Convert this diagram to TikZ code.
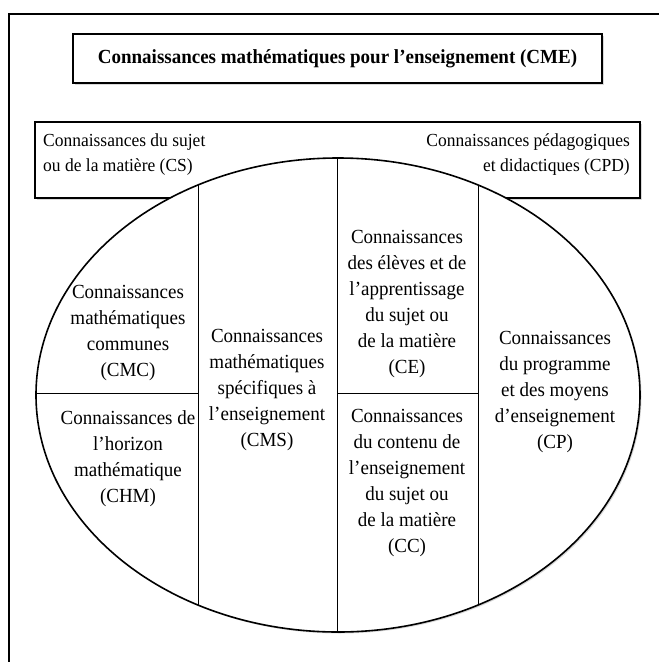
\documentclass[tikz,border=0pt]{standalone}
\usepackage{fontspec}
\setmainfont{Liberation Serif}[FakeStretch=0.95]
\usetikzlibrary{shadows}

\begin{document}
\begin{tikzpicture}[x=1pt, y=-1pt,
    boxframe/.style={draw, line width=1.5pt, fill=white,
      drop shadow={shadow xshift=1.5pt, shadow yshift=-1.5pt, opacity=0.3}},
    part/.style={inner sep=0pt, align=center, font=\fontsize{20}{26}\selectfont},
    side/.style={inner sep=0pt, font=\fontsize{18.4}{25}\selectfont}]
  \useasboundingbox (0,0) rectangle (659,662);
  % cadre
  \draw[line width=1.5pt] (9,662) -- (9,14) -- (659,14);
  \node[boxframe, minimum width=529pt, minimum height=49pt,
    font=\bfseries\fontsize{20}{26}\selectfont] (cme) at (337.5,58.5)
    {Connaissances mathématiques pour l’enseignement (CME)};
  \node[boxframe, minimum width=605pt, minimum height=76pt] (csbox) at (337.5,160) {};
  \node[side, align=left, anchor=west] (cs) at (43,155)
    {Connaissances du sujet\\ou de la matière (CS)};
  \node[side, align=right, anchor=east] (cpd) at (630,155)
    {Connaissances pédagogiques\\et didactiques (CPD)};
  % ellipse
  \path[fill=white, drop shadow={shadow xshift=1.5pt, shadow yshift=-1.5pt, opacity=0.3}]
    (338,395) ellipse [x radius=302, y radius=237];
  \begin{scope}
    \clip (338,395) ellipse [x radius=302, y radius=237];
    \foreach \cx in {198,337,478}
      \draw[line width=1pt] (\cx,100) -- (\cx,700);
    \draw[line width=0.8pt] (20,393) -- (198,393) (337,393) -- (478,393);
  \end{scope}
  \draw[line width=1.6pt] (338,395) ellipse [x radius=302, y radius=237];
  % parties
  \node[part] (cmc) at (128,333) {Connaissances\\mathématiques\\communes\\(CMC)};
  \node[part] (chm) at (128,459) {Connaissances de\\l’horizon\\mathématique\\(CHM)};
  \node[part] (cms) at (267,390) {Connaissances\\mathématiques\\spécifiques à\\l’enseignement\\(CMS)};
  \node[part] (ce) at (407,304) {Connaissances\\des élèves et de\\l’apprentissage\\du sujet ou\\de la matière\\(CE)};
  \node[part] (cc) at (407,483) {Connaissances\\du contenu de\\l’enseignement\\du sujet ou\\de la matière\\(CC)};
  \node[part] (cp) at (555,392) {Connaissances\\du programme\\et des moyens\\d’enseignement\\(CP)};
\end{tikzpicture}
\end{document}
